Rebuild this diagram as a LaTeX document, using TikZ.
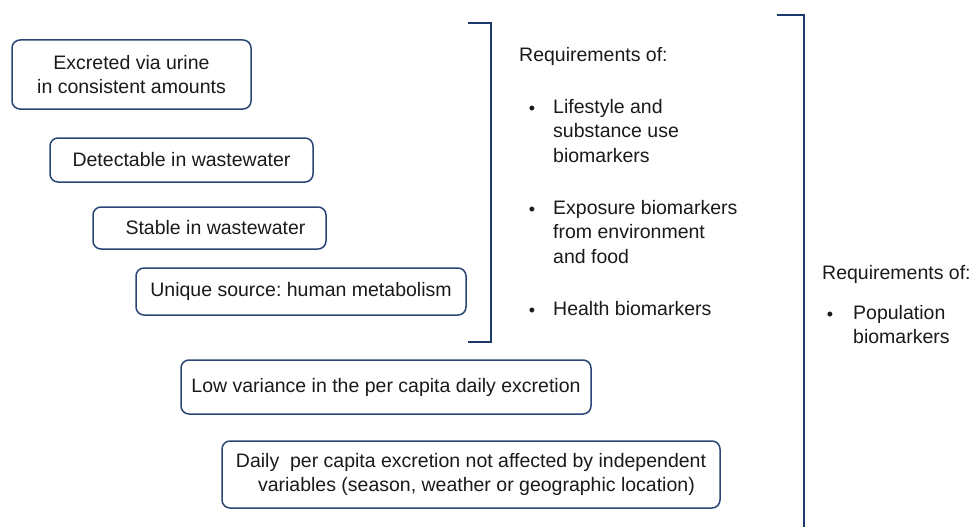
\documentclass[tikz,border=0pt]{standalone}
\usepackage{fontspec}
\setmainfont{Liberation Sans}
\frenchspacing
\definecolor{navy}{HTML}{1B3A6B}
\definecolor{boxline}{HTML}{2A4674}
\definecolor{txt}{HTML}{1A1A1A}
\begin{document}
\begin{tikzpicture}[x=1pt,y=-1pt,
  req/.style={draw=boxline, line width=1.5pt, rounded corners=8pt, fill=white, inner sep=0pt, align=center, text=txt, font=\fontsize{19.5}{24}\selectfont},
  brk/.style={draw=navy, line width=2.4pt},
  lbl/.style={anchor=base west, inner sep=0pt, text=txt, font=\fontsize{19.5}{24.5}\selectfont},
  dot/.style={anchor=base, inner sep=0pt, text=txt, font=\fontsize{18}{18}\selectfont}]
\useasboundingbox (0,0) rectangle (980,527);
\fill[white] (0,0) rectangle (980,527);
% boxes
\node[req, minimum width=239pt, minimum height=69pt] (b1) at (131.5,74.5) {Excreted via urine\\in consistent amounts};
\node[req, minimum width=263pt, minimum height=44pt] (b2) at (181.5,160) {Detectable in wastewater};
\node[req, minimum width=233pt, minimum height=42pt] (b3) at (209.5,228) {\hspace{12pt}Stable in wastewater};
\node[req, minimum width=330pt, minimum height=47pt] (b4) at (301,291.5) {Unique source: human metabolism};
\node[req, minimum width=410pt, minimum height=54pt] (b5) at (386,387) {Low variance in the per capita daily excretion};
\node[req, minimum width=498pt, minimum height=67pt] (b6) at (471,474.5) {Daily\ \ per capita excretion not affected by independent\\\ \ variables (season, weather or geographic location)};
% brackets
\coordinate (k1a) at (468,23);
\coordinate (k1b) at (491,23);
\coordinate (k1c) at (491,342);
\coordinate (k1d) at (468,342);
\draw[brk] (k1a) -- (k1b) -- (k1c) -- (k1d);
\coordinate (k2a) at (777,15);
\coordinate (k2b) at (804,15);
\coordinate (k2c) at (804,530);
\draw[brk] (k2a) -- (k2b) -- (k2c);
% texts
\node[lbl] (r1) at (519,62) {Requirements of:};
\node[dot] (d1) at (532,114) {•};
\node[lbl] (t1a) at (553,113) {Lifestyle and};
\node[lbl] (t1b) at (553,137.5) {substance use};
\node[lbl] (t1c) at (553,162) {biomarkers};
\node[dot] (d2) at (532,215) {•};
\node[lbl] (t2a) at (553,214) {Exposure biomarkers};
\node[lbl] (t2b) at (553,238.5) {from environment};
\node[lbl] (t2c) at (553,263) {and food};
\node[dot] (d3) at (532,316) {•};
\node[lbl] (t3) at (553,315) {Health biomarkers};
\node[lbl] (r2) at (822,279) {Requirements of:};
\node[dot] (d4) at (830,320) {•};
\node[lbl] (t4a) at (853,319) {Population};
\node[lbl] (t4b) at (853,343) {biomarkers};
\end{tikzpicture}
\end{document}
